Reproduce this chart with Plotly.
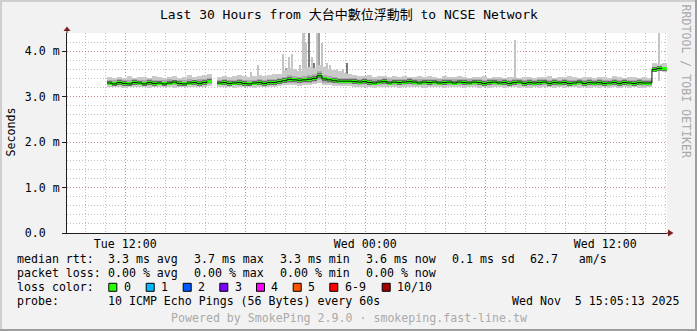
import numpy as np
import pandas as pd
import plotly.graph_objects as go

# ---------------- data ----------------
T_START = "2025-11-04 09:05:13"
T_END = "2025-11-05 15:05:13"
SAMPLE_START = "2025-11-04 11:05"   # first 15-minute sample

# median rtt (ms), 15-minute samples, None = no data
med = [
    3.30, 3.28, 3.31, 3.29, 3.28, 3.31, 3.30, 3.28, 3.31, 3.29, 3.30, 3.28,
    3.30, 3.32, 3.29, 3.28, 3.30, 3.31, 3.29, 3.31, 3.34,
    None,
    3.30, 3.31, 3.29, 3.30, 3.31, 3.29, 3.28, 3.30, 3.31, 3.29, 3.31, 3.31, 3.33,
    3.35, 3.38, 3.37, 3.36, 3.37, 3.38, 3.40, 3.46, 3.39, 3.37, 3.35, 3.34, 3.34, 3.34,
    3.33, 3.32, 3.33, 3.31, 3.30, 3.32, 3.33, 3.30, 3.32, 3.31, 3.32, 3.33,
    3.32, 3.30, 3.32, 3.31, 3.32, 3.30, 3.31, 3.32, 3.30, 3.32, 3.31, 3.30,
    3.32, 3.31, 3.29, 3.31, 3.32, 3.30, 3.31, 3.29, 3.31, 3.32, 3.29, 3.31,
    3.30, 3.31, 3.32, 3.29, 3.31, 3.30, 3.31, 3.29, 3.30, 3.32, 3.29, 3.31,
    3.30, 3.31, 3.29, 3.30, 3.31, 3.29, 3.31, 3.30, 3.29, 3.31, 3.30, 3.30,
    3.60, 3.62, 3.61,
]
# outer smoke (min / max ping)
smoke_hi = [
    3.43, 3.41, 3.44, 3.42, 3.45, 3.41, 3.43, 3.44, 3.42, 3.46, 3.43, 3.41,
    3.44, 3.45, 3.42, 3.43, 3.47, 3.44, 3.46, 3.48, 3.50,
    None,
    3.44, 3.46, 3.43, 3.45, 3.47, 3.45, 3.44, 3.46, 3.48, 3.45, 3.47, 3.49, 3.50,
    3.58, 3.62, 3.60, 3.56, 3.64, 3.66, 3.62, 3.70, 3.66, 3.60, 3.58, 3.56, 3.52, 3.50,
    3.48, 3.46, 3.45, 3.47, 3.44, 3.46, 3.45, 3.43, 3.46, 3.44, 3.45, 3.43,
    3.44, 3.46, 3.43, 3.45, 3.44, 3.42, 3.45, 3.43, 3.44, 3.46, 3.43, 3.42,
    3.44, 3.43, 3.45, 3.42, 3.44, 3.43, 3.42, 3.44, 3.43, 3.42, 3.44, 3.43,
    3.42, 3.44, 3.43, 3.45, 3.42, 3.43, 3.44, 3.46, 3.43, 3.42, 3.44, 3.43,
    3.42, 3.44, 3.43, 3.42, 3.45, 3.43, 3.42, 3.44, 3.43, 3.42, 3.43, 3.42,
    3.74, 3.72, 3.73,
]
smoke_lo = [
    3.22, 3.21, 3.22, 3.20, 3.22, 3.21, 3.22, 3.21, 3.20, 3.22, 3.21, 3.22,
    3.21, 3.20, 3.22, 3.21, 3.22, 3.21, 3.22, 3.22, 3.24,
    None,
    3.21, 3.22, 3.21, 3.20, 3.22, 3.21, 3.22, 3.20, 3.21, 3.22, 3.21, 3.22, 3.23,
    3.25, 3.26, 3.25, 3.24, 3.25, 3.26, 3.27, 3.30, 3.26, 3.25, 3.24, 3.24, 3.23, 3.23,
    3.22, 3.21, 3.22, 3.21, 3.20, 3.22, 3.21, 3.22, 3.21, 3.20, 3.22, 3.21,
    3.21, 3.22, 3.20, 3.21, 3.22, 3.21, 3.20, 3.21, 3.22, 3.21, 3.20, 3.21,
    3.22, 3.20, 3.21, 3.20, 3.22, 3.21, 3.20, 3.21, 3.22, 3.20, 3.21, 3.20,
    3.21, 3.20, 3.22, 3.21, 3.20, 3.21, 3.20, 3.22, 3.21, 3.20, 3.21, 3.20,
    3.21, 3.20, 3.21, 3.20, 3.22, 3.20, 3.21, 3.20, 3.21, 3.20, 3.20, 3.21,
    3.55, 3.56, 3.55,
]
# inner smoke
core_hi = [
    3.37, 3.36, 3.38, 3.37, 3.36, 3.38, 3.37, 3.36, 3.38, 3.37, 3.37, 3.36,
    3.38, 3.37, 3.36, 3.37, 3.38, 3.37, 3.38, 3.39, 3.41,
    None,
    3.37, 3.38, 3.36, 3.37, 3.38, 3.37, 3.36, 3.37, 3.38, 3.37, 3.38, 3.38, 3.40,
    3.44, 3.47, 3.45, 3.44, 3.46, 3.48, 3.50, 3.56, 3.48, 3.45, 3.43, 3.42, 3.41, 3.41,
    3.40, 3.39, 3.40, 3.39, 3.38, 3.39, 3.40, 3.38, 3.39, 3.38, 3.39, 3.40,
    3.39, 3.38, 3.39, 3.38, 3.39, 3.38, 3.38, 3.39, 3.38, 3.39, 3.38, 3.38,
    3.39, 3.38, 3.37, 3.38, 3.39, 3.38, 3.38, 3.37, 3.38, 3.38, 3.37, 3.38,
    3.37, 3.38, 3.38, 3.37, 3.38, 3.37, 3.38, 3.37, 3.37, 3.38, 3.37, 3.38,
    3.37, 3.38, 3.37, 3.37, 3.38, 3.37, 3.38, 3.37, 3.37, 3.38, 3.37, 3.37,
    3.66, 3.67, 3.66,
]
core_lo = [
    3.25, 3.24, 3.25, 3.26, 3.24, 3.25, 3.25, 3.24, 3.26, 3.25, 3.25, 3.24,
    3.25, 3.26, 3.25, 3.24, 3.25, 3.26, 3.25, 3.26, 3.28,
    None,
    3.25, 3.26, 3.25, 3.25, 3.26, 3.25, 3.24, 3.25, 3.26, 3.25, 3.26, 3.26, 3.27,
    3.29, 3.31, 3.30, 3.29, 3.30, 3.31, 3.33, 3.36, 3.31, 3.30, 3.29, 3.28, 3.28, 3.28,
    3.27, 3.26, 3.27, 3.26, 3.25, 3.26, 3.27, 3.25, 3.26, 3.25, 3.26, 3.27,
    3.26, 3.25, 3.26, 3.25, 3.26, 3.25, 3.25, 3.26, 3.25, 3.26, 3.25, 3.25,
    3.26, 3.25, 3.24, 3.25, 3.26, 3.25, 3.25, 3.24, 3.25, 3.25, 3.24, 3.25,
    3.24, 3.25, 3.25, 3.24, 3.25, 3.24, 3.25, 3.24, 3.24, 3.25, 3.24, 3.25,
    3.24, 3.25, 3.24, 3.24, 3.25, 3.24, 3.25, 3.24, 3.24, 3.25, 3.24, 3.24,
    3.57, 3.58, 3.57,
]
# individual high pings (spikes)
spike_times = [
    "2025-11-04 18:17", "2025-11-04 18:38", "2025-11-04 19:53", "2025-11-04 20:02",
    "2025-11-04 20:11", "2025-11-04 20:20", "2025-11-04 20:44", "2025-11-04 20:53",
    "2025-11-04 20:56", "2025-11-04 21:02", "2025-11-04 21:11", "2025-11-04 21:20",
    "2025-11-04 21:26", "2025-11-04 21:35", "2025-11-04 21:41", "2025-11-04 21:50",
    "2025-11-04 22:05", "2025-11-04 22:14", "2025-11-04 22:35", "2025-11-04 22:53",
    "2025-11-04 23:05", "2025-11-05 07:29", "2025-11-05 14:41",
]
spike_tops = [
    3.54, 3.69, 3.93, 3.62,
    3.87, 3.93, 3.69, 4.40,
    4.40, 4.17, 4.40, 3.87,
    3.74, 4.40, 4.40, 4.17,
    3.74, 3.69, 3.60, 3.60,
    3.74, 4.25, 4.40,
]
spike_shade = [
    "l", "l", "l", "m",
    "l", "l", "l", "l",
    "l", "l", "d", "l",
    "d", "l", "m", "l",
    "l", "l", "l", "l",
    "d", "l", "l",
]

Y_TICKS = [0, 1, 2, 3, 4]
Y_TICK_TEXT = ["0.0\u00a0\u00a0", "1.0 m", "2.0 m", "3.0 m", "4.0 m"]
X_TICKS = ["2025-11-04 12:00", "2025-11-04 18:00", "2025-11-05 00:00",
           "2025-11-05 06:00", "2025-11-05 12:00"]
X_TICK_TEXT = ["Tue 12:00", "", "Wed 00:00", "", "Wed 12:00"]

TITLE = "Last 30 Hours from 大台中數位浮動制 to NCSE Network"
RTT_ITEMS = ["3.3 ms avg", "3.7 ms max", "3.3 ms min", "3.6 ms now", "0.1 ms sd",
             "62.7\u00a0\u00a0\u00a0am/s"]
LOSS_ITEMS = ["0.00 % avg", "0.00 % max", "0.00 % min", "0.00 % now"]
LOSS_LABELS = ["0", "1", "2", "3", "4", "5", "6-9", "10/10"]
LOSS_COLORS = ["#26ff00", "#00b8ff", "#0059ff", "#7e00ff", "#ff00ff",
               "#ff5500", "#ff0000", "#a10000"]
PROBE = "10 ICMP Echo Pings (56 Bytes) every 60s"
STAMP = "Wed Nov\u00a0\u00a05 15:05:13 2025"
FOOTER = "Powered by SmokePing 2.9.0 · smokeping.fast-line.tw"
WATERMARK = "RRDTOOL / TOBI OETIKER"

# ---------------- layout constants ----------------
W, H = 697, 331
L, R, T, B = 67, 30, 33, 98
PW, PH = W - L - R, H - T - B
MONO = "DejaVu Sans Mono, Noto Sans CJK TC, monospace"
FS = 11.6


def px(X):
    return (X - L) / PW


def py(Y):
    return (T + PH - Y) / PH


times = pd.date_range(SAMPLE_START, periods=len(med), freq="15min")
STEP_MS = 15 * 60 * 1000
m = np.array(med, dtype=float)
shi, slo = np.array(smoke_hi, dtype=float), np.array(smoke_lo, dtype=float)
chi, clo = np.array(core_hi, dtype=float), np.array(core_lo, dtype=float)

fig = go.Figure()

shade_col = {"l": "#c4c4c4", "m": "#a0a0a0", "d": "#7a7a7a"}
sp_base = 3.35
fig.add_trace(go.Bar(
    x=pd.to_datetime(spike_times), y=[t - sp_base for t in spike_tops], base=sp_base,
    width=200000, marker=dict(color=[shade_col[s] for s in spike_shade], line_width=0),
    hoverinfo="skip", showlegend=False))

fig.add_trace(go.Bar(x=times, y=shi - slo, base=slo, width=STEP_MS * 1.02, offset=0,
                     marker=dict(color="#cacaca", line_width=0), hoverinfo="skip",
                     showlegend=False))
fig.add_trace(go.Bar(x=times, y=chi - clo, base=clo, width=STEP_MS * 1.02, offset=0,
                     marker=dict(color="#ababab", line_width=0), hoverinfo="skip",
                     showlegend=False))
# dark core around median
fig.add_trace(go.Bar(x=times, y=np.where(np.isnan(m), np.nan, 0.1), base=m - 0.05,
                     width=STEP_MS * 1.02, offset=0,
                     marker=dict(color="#6a6a6a", line_width=0), hoverinfo="skip",
                     showlegend=False))
fig.add_trace(go.Scatter(x=times, y=m, mode="lines", line=dict(color="#111111", width=1, shape="hv"),
                         connectgaps=False, hoverinfo="skip", showlegend=False))
# median (loss colour 0)
fig.add_trace(go.Bar(x=times, y=np.where(np.isnan(m), np.nan, 0.066), base=m - 0.033,
                     width=STEP_MS * 1.02, offset=0,
                     marker=dict(color=LOSS_COLORS[0], line_width=0), hoverinfo="skip",
                     showlegend=False))

GRID = "rgba(143,143,143,0.55)"
MGRID = "rgba(222,79,79,0.5)"
DASH = "1px,2px"

fig.update_layout(
    width=W, height=H, autosize=False,
    margin=dict(l=L, r=R, t=T, b=B, pad=0),
    paper_bgcolor="#f2f2f2", plot_bgcolor="#ffffff",
    barmode="overlay", bargap=0, showlegend=False,
    font=dict(family=MONO, size=FS, color="#000000"),
    xaxis=dict(type="date", range=[T_START, T_END], tickvals=X_TICKS, ticktext=X_TICK_TEXT,
               showgrid=True, gridcolor=MGRID, griddash=DASH, gridwidth=1,
               minor=dict(dtick=3600000, tick0="2025-11-04 00:00", showgrid=True,
                          gridcolor=GRID, griddash=DASH, gridwidth=1),
               showline=True, linecolor="#1f1f1f", linewidth=1, ticks="", zeroline=False,
               tickfont=dict(family=MONO, size=FS), fixedrange=True),
    yaxis=dict(range=[0, 4.4], tickvals=Y_TICKS, ticktext=Y_TICK_TEXT,
               showgrid=True, gridcolor=MGRID, griddash=DASH, gridwidth=1,
               minor=dict(dtick=0.2, tick0=0, showgrid=True, gridcolor=GRID,
                          griddash=DASH, gridwidth=1),
               showline=True, linecolor="#1f1f1f", linewidth=1,
               ticks="outside", ticklen=4, tickcolor="#1f1f1f", zeroline=False,
               tickfont=dict(family=MONO, size=FS), fixedrange=True),
)

ann = []


def text(X, Y, s, size=FS, color="#000000", xanchor="left", angle=0, yanchor="middle"):
    ann.append(dict(x=px(X), y=py(Y), xref="paper", yref="paper", text=s, showarrow=False,
                    xanchor=xanchor, yanchor=yanchor, textangle=angle, borderpad=0,
                    font=dict(family=MONO, size=size, color=color)))


text(348.5, 15, TITLE, size=13, xanchor="center")
text(10, 132.5, "Seconds", xanchor="center", angle=-90)
text(686, 81.5, WATERMARK, color="#a8a8a8", xanchor="center", angle=90)

ROW_Y = [259, 273, 287, 301]
ITEM_X = [106.5, 192.5, 278.5, 364.5, 450.5, 529]
text(15.5, ROW_Y[0], "median rtt:")
for s, X in zip(RTT_ITEMS, ITEM_X):
    text(X, ROW_Y[0], s)
text(15.5, ROW_Y[1], "packet loss:")
for s, X in zip(LOSS_ITEMS, ITEM_X):
    text(X, ROW_Y[1], s)
text(15.5, ROW_Y[2], "loss color:")
BOX_X = [108.3, 145.7, 182.7, 219.3, 256.0, 292.7, 329.3, 381.7]
shapes = []
for lab, col, X in zip(LOSS_LABELS, LOSS_COLORS, BOX_X):
    shapes.append(dict(type="rect", xref="paper", yref="paper", x0=px(X + 0.5), x1=px(X + 8.5),
                       y0=py(ROW_Y[2] - 3.7), y1=py(ROW_Y[2] + 4.3), fillcolor=col,
                       line=dict(color="#000000", width=1)))
    text(X + 14.3, ROW_Y[2], lab)
text(15.5, ROW_Y[3], "probe:")
text(106.5, ROW_Y[3], PROBE)
text(681, ROW_Y[3], STAMP, xanchor="right")
text(348.5, 318, FOOTER, color="#aaaaaa", xanchor="center")

# axis arrows
ARROW = "#801f1f"
shapes.append(dict(type="line", xref="paper", yref="paper", x0=0, x1=0, y0=1, y1=py(30),
                   line=dict(color="#1f1f1f", width=1)))
shapes.append(dict(type="path", xref="paper", yref="paper",
                   path=f"M {px(63.5)} {py(31)} L {px(70.5)} {py(31)} L {px(67)} {py(26.5)} Z",
                   fillcolor=ARROW, line=dict(color=ARROW, width=0)))
shapes.append(dict(type="line", xref="paper", yref="paper", x0=1, x1=px(669), y0=0, y1=0,
                   line=dict(color="#1f1f1f", width=1)))
shapes.append(dict(type="path", xref="paper", yref="paper",
                   path=f"M {px(668)} {py(229.5)} L {px(668)} {py(236.5)} L {px(673.5)} {py(233)} Z",
                   fillcolor=ARROW, line=dict(color=ARROW, width=0)))
# 3D frame
for (x0, y0, x1, y1, c) in [(0, 1, W, 1, "#cfcfcf"), (1, 0, 1, H, "#cfcfcf"),
                            (0, H - 1, W, H - 1, "#9e9e9e"), (W - 1, 0, W - 1, H, "#9e9e9e")]:
    shapes.append(dict(type="line", xref="paper", yref="paper", x0=px(x0), x1=px(x1),
                       y0=py(y0), y1=py(y1), line=dict(color=c, width=2)))

fig.update_layout(annotations=ann, shapes=shapes)
fig.write_html("out.html", config={"displayModeBar": False})
